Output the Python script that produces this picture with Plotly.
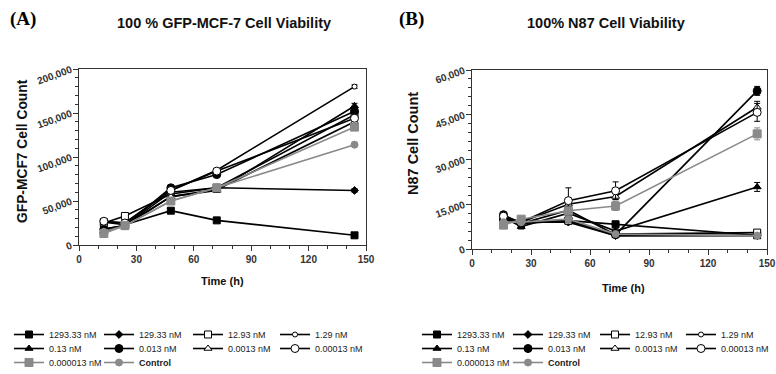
import plotly.graph_objects as go

labels = ["1293.33 nM", "129.33 nM", "12.93 nM", "1.29 nM", "0.13 nM", "0.013 nM",
          "0.0013 nM", "0.00013 nM", "0.000013 nM", "<b>Control</b>"]

time_a = [13, 24, 48, 72, 144]
mcf7 = [
    [26000, 23000, 39000, 28000, 11000],
    [18000, 22000, 60000, 65000, 62000],
    [25000, 33000, 58000, 65000, 148000],
    [27000, 25000, 62000, 85000, 180000],
    [15000, 22000, 55000, 62000, 158000],
    [18000, 22000, 65000, 80000, 152000],
    [16000, 22000, 55000, 63000, 140000],
    [27000, 25000, 62000, 84000, 144000],
    [13000, 22000, 50000, 65000, 134000],
    [15000, 22000, 50000, 65000, 114000],
]
mcf7_err = [
    [1000, 1000, 2000, 1500, 1000],
    [1000, 1000, 2000, 1500, 2000],
    [1000, 1500, 2000, 2000, 2000],
    [1000, 1000, 2000, 2000, 2000],
    [1000, 1000, 2000, 2000, 3000],
    [1000, 1000, 2000, 2000, 2000],
    [1000, 1000, 2000, 2000, 2000],
    [1000, 1000, 2000, 2000, 2000],
    [1000, 1000, 2000, 4000, 2000],
    [1000, 1000, 2000, 2000, 2000],
]

time_b = [16, 25, 49, 73, 145]
n87 = [
    [10000, 9000, 9500, 8300, 4600],
    [10500, 9000, 9000, 4500, 4500],
    [9500, 9000, 9500, 5000, 5500],
    [10000, 8500, 9600, 4500, 4600],
    [10500, 7500, 12000, 6000, 20800],
    [11500, 8500, 13000, 4800, 53000],
    [10000, 9000, 15000, 17600, 47500],
    [11000, 9000, 16200, 19500, 45800],
    [8000, 10000, 12800, 14400, 38600],
    [9000, 9000, 10000, 5000, 4500],
]
n87_err = [
    [500, 500, 800, 800, 400],
    [500, 500, 500, 500, 400],
    [500, 500, 500, 500, 400],
    [500, 500, 500, 500, 400],
    [500, 800, 1000, 800, 1500],
    [500, 500, 1000, 500, 1500],
    [500, 500, 1000, 1000, 2000],
    [500, 500, 4300, 3000, 3000],
    [800, 800, 1000, 1500, 2000],
    [500, 500, 500, 500, 400],
]

x_ticks = [0, 30, 60, 90, 120, 150]
x_tick_text = ["0", "30", "60", "90", "120", "150"]
a_ticks = [0, 50000, 100000, 150000, 200000]
a_tick_text = ["0", "50,000", "100,000", "150,000", "200,000"]
b_ticks = [0, 15000, 30000, 45000, 60000]
b_tick_text = ["0", "15,000", "30,000", "45,000", "60,000"]

W, H = 776, 374
GRAY = "#8a8a8a"
styles = [
    dict(symbol="square", color="black", lc="black", size=7),
    dict(symbol="diamond", color="black", lc="black", size=6),
    dict(symbol="square", color="white", lc="black", size=7),
    dict(symbol="circle", color="white", lc="black", size=5),
    dict(symbol="triangle-up", color="black", lc="black", size=7),
    dict(symbol="circle", color="black", lc="black", size=8),
    dict(symbol="triangle-up", color="white", lc="black", size=7),
    dict(symbol="circle", color="white", lc="black", size=8),
    dict(symbol="square", color=GRAY, lc=GRAY, size=8),
    dict(symbol="circle", color=GRAY, lc=GRAY, size=7),
]

# legend grid (pixel positions of each column's line start, and row tops)
LEG_COLS = [[16, 106, 195, 282], [424, 515, 602, 688]]
LEG_ROW_TOPS = [320, 334, 348]

fig = go.Figure()

def legend_id(panel, i):
    n = panel * 10 + i + 1
    return "legend" if n == 1 else "legend%d" % n

def add_series(times, data, errs, xa, ya, panel):
    for i, (lab, ys, es, st) in enumerate(zip(labels, data, errs, styles)):
        fig.add_trace(go.Scatter(
            x=times, y=ys, mode="lines+markers", name=lab,
            xaxis=xa, yaxis=ya, legend=legend_id(panel, i), showlegend=True,
            line=dict(color=st["lc"], width=1.6),
            marker=dict(symbol=st["symbol"], size=st["size"], color=st["color"],
                        line=dict(color=st["lc"], width=1)),
            error_y=dict(type="data", array=es, color=st["lc"], thickness=1, width=3),
        ))

add_series(time_a, mcf7, mcf7_err, "x", "y", 0)
add_series(time_b, n87, n87_err, "x2", "y2", 1)

def bold(lst):
    return ["<b>%s</b>" % t for t in lst]

tickfont = dict(family="Liberation Sans", size=10, color="#333")
axis_common = dict(
    showline=True, linecolor="#333", linewidth=1, mirror=True,
    showgrid=False, zeroline=False, ticks="outside", ticklen=5, tickcolor="#333",
    tickfont=tickfont,
)

def minor(d):
    return dict(dtick=d, ticks="outside", ticklen=3, tickcolor="#333", showgrid=False)

legend_common = dict(
    orientation="h", xanchor="left", yanchor="top",
    xref="container", yref="container",
    font=dict(family="Liberation Sans", size=9, color="#222"),
    bgcolor="rgba(0,0,0,0)",
)

legend_layout = {}
for panel in range(2):
    for i in range(len(labels)):
        row, col = divmod(i, 4)
        legend_layout[legend_id(panel, i)] = dict(
            x=(LEG_COLS[panel][col] - 7) / W, y=1 - LEG_ROW_TOPS[row] / H, **legend_common)

fig.update_layout(
    width=W, height=H, showlegend=True,
    margin=dict(l=0, r=0, t=0, b=0, autoexpand=False),
    paper_bgcolor="white", plot_bgcolor="white",
    font=dict(family="Liberation Sans", color="#222"),
    xaxis=dict(domain=[79/W, 366/W], anchor="y", range=[0, 150],
               tickvals=x_ticks, ticktext=bold(x_tick_text), minor=minor(10), **axis_common),
    yaxis=dict(domain=[1-245/H, 1-69/H], anchor="x", range=[0, 200000],
               tickvals=a_ticks, ticktext=bold(a_tick_text), tickangle=-20,
               minor=minor(10000), **axis_common),
    xaxis2=dict(domain=[472/W, 767/W], anchor="y2", range=[0, 150],
                tickvals=x_ticks, ticktext=bold(x_tick_text), minor=minor(10), **axis_common),
    yaxis2=dict(domain=[1-249/H, 1-70/H], anchor="x2", range=[0, 60000],
                tickvals=b_ticks, ticktext=bold(b_tick_text), tickangle=-20,
                minor=minor(3000), **axis_common),
    **legend_layout,
)

annotations = [
    dict(text="<b>(A)</b>", x=8, y=19, font=dict(family="Liberation Serif", size=19, color="black"), xanchor="left"),
    dict(text="<b>(B)</b>", x=397, y=19, font=dict(family="Liberation Serif", size=19, color="black"), xanchor="left"),
    dict(text="<b>100 % GFP-MCF-7 Cell Viability</b>", x=224, y=23, font=dict(size=14.5, color="#111")),
    dict(text="<b>100% N87 Cell Viability</b>", x=606, y=23, font=dict(size=14.5, color="#111")),
    dict(text="<b>Time (h)</b>", x=222, y=281, font=dict(size=11, color="#111")),
    dict(text="<b>Time (h)</b>", x=623, y=288, font=dict(size=11, color="#111")),
    dict(text="<b>GFP-MCF7 Cell Count</b>", x=22, y=151, textangle=-90, font=dict(size=13.8, color="#111")),
    dict(text="<b>N87 Cell Count</b>", x=413, y=144, textangle=-90, font=dict(size=14.5, color="#111")),
]
for a in annotations:
    a.setdefault("xanchor", "center")
    fig.add_annotation(xref="paper", yref="paper", x=a["x"]/W, y=1-a["y"]/H,
                       text=a["text"], showarrow=False, font=a["font"], textangle=a.get("textangle", 0),
                       xanchor=a["xanchor"], yanchor="middle")

fig.write_html("out.html", config={"displayModeBar": False},
               post_script="document.body.style.margin='0';document.body.style.overflow='hidden';")
